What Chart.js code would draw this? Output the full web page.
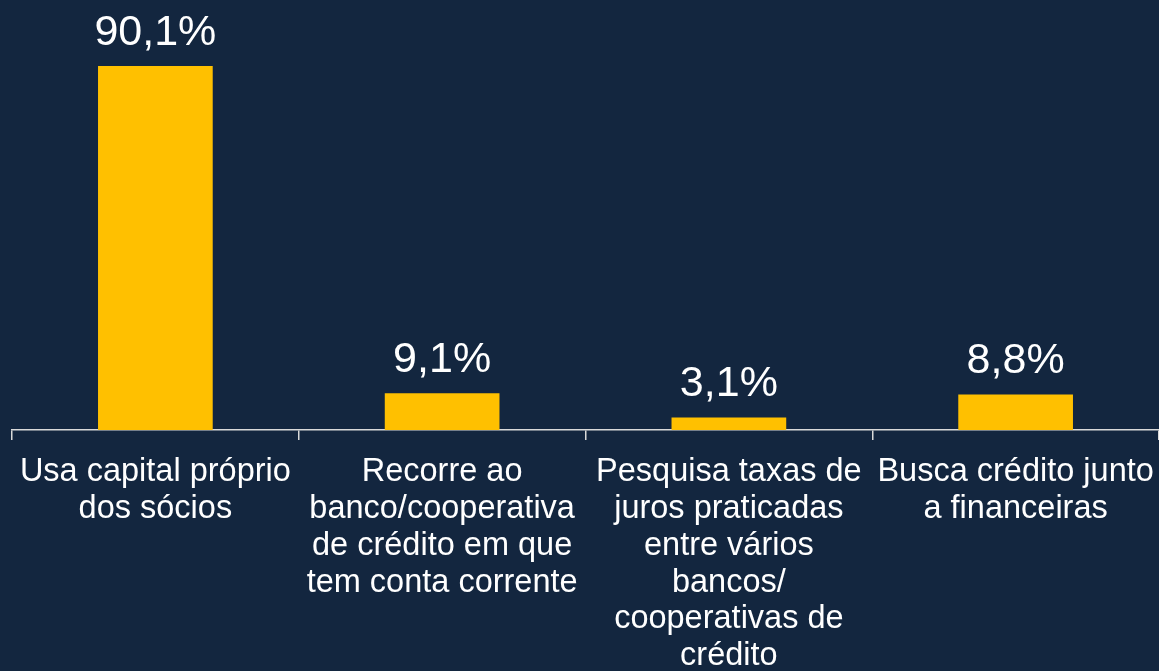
<!DOCTYPE html>
<html>
<head>
<meta charset="utf-8">
<script src="https://cdn.jsdelivr.net/npm/chart.js@4"></script>
<style>
  html, body { margin: 0; padding: 0; background: #13263f; }
  #wrap { width: 1159px; height: 671px; }
</style>
</head>
<body>
<div id="wrap"><canvas id="grafico"></canvas></div>
<script>
var categorias = [
  ['Usa capital próprio', 'dos sócios'],
  ['Recorre ao', 'banco/cooperativa', 'de crédito em que', 'tem conta corrente'],
  ['Pesquisa taxas de', 'juros praticadas', 'entre vários', 'bancos/', 'cooperativas de', 'crédito'],
  ['Busca crédito junto', 'a financeiras']
];
var valores = [90.1, 9.1, 3.1, 8.8];
var rotulos = ['90,1%', '9,1%', '3,1%', '8,8%'];

// desenha os valores em cima das barras
const rotulosBarras = {
  id: 'rotulosBarras',
  afterDatasetsDraw(chart) {
    const ctx = chart.ctx;
    const meta = chart.getDatasetMeta(0);
    ctx.save();
    ctx.fillStyle = '#ffffff';
    ctx.font = '43px "Liberation Sans", Arial, sans-serif';
    ctx.textAlign = 'center';
    ctx.textBaseline = 'alphabetic';
    meta.data.forEach(function (bar, i) {
      ctx.fillText(rotulos[i], bar.x, bar.y - 21);
    });
    ctx.restore();
  }
};

const grafico = document.getElementById('grafico');

new Chart(grafico, {
  type: 'bar',
  data: {
    labels: categorias,
    datasets: [{
      data: valores,
      backgroundColor: '#ffc000',
      barPercentage: 0.4,
      categoryPercentage: 1
    }]
  },
  options: {
    responsive: true,
    maintainAspectRatio: false,
    animation: false,
    layout: { padding: { top: 26, left: 12, right: 0, bottom: 0 } },
    plugins: {
      legend: { display: false },
      tooltip: { enabled: false }
    },
    scales: {
      x: {
        afterFit: function (scale) {
          scale.height = 241;
          scale.paddingLeft = 0;
          scale.paddingRight = 0;
        },
        border: { color: '#d9d9d9', width: 1.5 },
        grid: {
          offset: true,
          drawOnChartArea: false,
          color: '#d9d9d9',
          lineWidth: 1.5,
          tickLength: 10
        },
        ticks: {
          color: '#ffffff',
          font: { family: '"Liberation Sans", Arial, sans-serif', size: 32.5, lineHeight: 1.13 },
          padding: 14,
          autoSkip: false,
          maxRotation: 0,
          minRotation: 0
        }
      },
      y: {
        display: false,
        min: 0,
        max: 100
      }
    }
  },
  plugins: [rotulosBarras]
});
</script>
</body>
</html>
